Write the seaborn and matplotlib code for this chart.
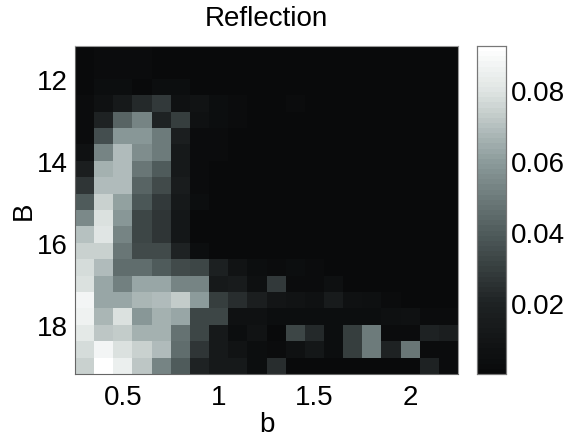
import matplotlib
matplotlib.use('Agg')
import matplotlib.pyplot as plt
from matplotlib.colors import LinearSegmentedColormap
import seaborn as sns
import numpy as np

# parameter grids, cell centres
b_values = [round(0.3 + 0.1 * i, 1) for i in range(20)]
B_values = [round(11.4 + 0.4 * i, 1) for i in range(20)]

b_ticks = [0.5, 1, 1.5, 2]
b_labels = ['0.5', '1', '1.5', '2']
B_ticks = [12, 14, 16, 18]
cbar_ticks = [0.02, 0.04, 0.06, 0.08]
cbar_labels = ['0.02', '0.04', '0.06', '0.08']

# reflection, one list per B row
r00 = [.001, .002, .002, .002, .001, .001, .001, .001, .001, .001, .001, .001, .001, .001, .001, .001, .001, .001, .001, .001]
r01 = [.001, .002, .002, .002, .001, .001, .001, .001, .001, .001, .001, .001, .001, .001, .001, .001, .001, .001, .001, .001]
r02 = [.001, .003, .004, .001, .003, .003, .001, .001, .001, .001, .001, .001, .001, .001, .001, .001, .001, .001, .001, .001]
r03 = [.002, .006, .012, .022, .028, .006, .008, .003, .002, .001, .001, .002, .001, .001, .001, .001, .001, .001, .001, .001]
r04 = [.002, .020, .043, .052, .020, .029, .006, .003, .002, .001, .001, .001, .001, .001, .001, .001, .001, .001, .001, .001]
r05 = [.002, .036, .058, .058, .050, .016, .002, .002, .001, .001, .001, .001, .001, .001, .001, .001, .001, .001, .001, .001]
r06 = [.006, .053, .068, .056, .050, .012, .002, .002, .001, .001, .001, .001, .001, .001, .001, .001, .001, .001, .001, .001]
r07 = [.016, .066, .069, .049, .040, .012, .002, .001, .001, .001, .001, .001, .001, .001, .001, .001, .001, .001, .001, .001]
r08 = [.026, .069, .069, .042, .034, .015, .002, .001, .001, .001, .001, .001, .001, .001, .001, .001, .001, .001, .001, .001]
r09 = [.040, .075, .062, .038, .028, .012, .003, .001, .001, .001, .001, .001, .001, .001, .001, .001, .001, .001, .001, .001]
r10 = [.054, .078, .058, .033, .026, .011, .001, .001, .001, .001, .001, .001, .001, .001, .001, .001, .001, .001, .001, .001]
r11 = [.070, .080, .052, .033, .026, .011, .001, .001, .001, .001, .001, .001, .001, .001, .001, .001, .001, .001, .001, .001]
r12 = [.074, .074, .049, .034, .034, .020, .004, .001, .001, .001, .001, .001, .001, .001, .001, .001, .001, .001, .001, .001]
r13 = [.077, .069, .046, .046, .040, .034, .032, .018, .008, .004, .002, .003, .002, .001, .001, .001, .001, .001, .001, .001]
r14 = [.079, .063, .051, .063, .063, .053, .052, .012, .014, .005, .028, .002, .002, .005, .001, .001, .001, .001, .001, .001]
r15 = [.087, .063, .063, .067, .069, .073, .060, .030, .024, .016, .009, .008, .007, .014, .006, .005, .002, .001, .001, .001]
r16 = [.086, .067, .078, .059, .066, .063, .033, .032, .007, .006, .004, .003, .003, .003, .003, .003, .005, .006, .002, .002]
r17 = [.082, .072, .073, .066, .066, .047, .032, .012, .003, .008, .001, .032, .022, .003, .030, .050, .002, .002, .019, .017]
r18 = [.077, .087, .078, .075, .068, .046, .026, .012, .008, .004, .002, .006, .011, .003, .029, .050, .020, .049, .002, .002]
r19 = [.075, .0924, .084, .071, .052, .039, .020, .012, .012, .004, .024, .001, .001, .001, .001, .001, .001, .001, .020, .002]

matrix = np.array([r00, r01, r02, r03, r04, r05, r06, r07, r08, r09,
                   r10, r11, r12, r13, r14, r15, r16, r17, r18, r19])

cmap = LinearSegmentedColormap.from_list(
    'refl', [(0, '#090a0b'), (0.216, '#1f2324'), (0.433, '#505c5c'),
             (0.65, '#8c9b9b'), (0.866, '#dee4e2'), (1, '#ffffff')], N=64)

sns.set_style('white')
plt.rcParams['font.family'] = ['Liberation Sans', 'DejaVu Sans']
plt.rcParams['text.color'] = 'black'
plt.rcParams['axes.labelcolor'] = 'black'
plt.rcParams['xtick.labelcolor'] = 'black'
plt.rcParams['ytick.labelcolor'] = 'black'

fig = plt.figure(figsize=(5.84, 4.39), dpi=100)
ax = fig.add_axes([75 / 584, 1 - 375 / 439, 383 / 584, 328 / 439])
cax = fig.add_axes([477 / 584, 1 - 375 / 439, 28.5 / 584, 328 / 439])

sns.heatmap(matrix, ax=ax, cbar_ax=cax, cmap=cmap, vmin=0, vmax=0.0924,
            xticklabels=False, yticklabels=False)

# heatmap axes count cells, so convert the tick values to cell index
ax.set_xticks([(v - b_values[0]) / 0.1 + 0.5 for v in b_ticks])
ax.set_xticklabels(b_labels)
ax.set_yticks([(v - B_values[0]) / 0.4 + 0.5 for v in B_ticks])
ax.set_yticklabels([str(v) for v in B_ticks], rotation=0)
ax.tick_params(axis='x', direction='in', length=3, width=0.7, color='#111111',
               labelsize=20, pad=7, bottom=True)
ax.tick_params(axis='y', direction='in', length=3, width=0.7, color='#111111',
               labelsize=20, pad=5, left=True)
ax.set_xlabel('b', fontsize=20, labelpad=1)
ax.set_ylabel('B', fontsize=20, labelpad=0)
ax.set_title('Reflection', fontsize=20, pad=15, color='black')

for name, spine in ax.spines.items():
    spine.set_visible(True)
    spine.set_linewidth(0.8)
    spine.set_color('#666666' if name in ('left', 'bottom') else '#999999')

cax.set_yticks(cbar_ticks)
cax.set_yticklabels(cbar_labels)
cax.tick_params(axis='y', direction='in', length=3, width=0.6, color='#444444',
                labelsize=20, pad=4, right=True)
for spine in cax.spines.values():
    spine.set_visible(True)
    spine.set_linewidth(0.8)
    spine.set_color('#777777')

fig.savefig('out.png', dpi=100)
